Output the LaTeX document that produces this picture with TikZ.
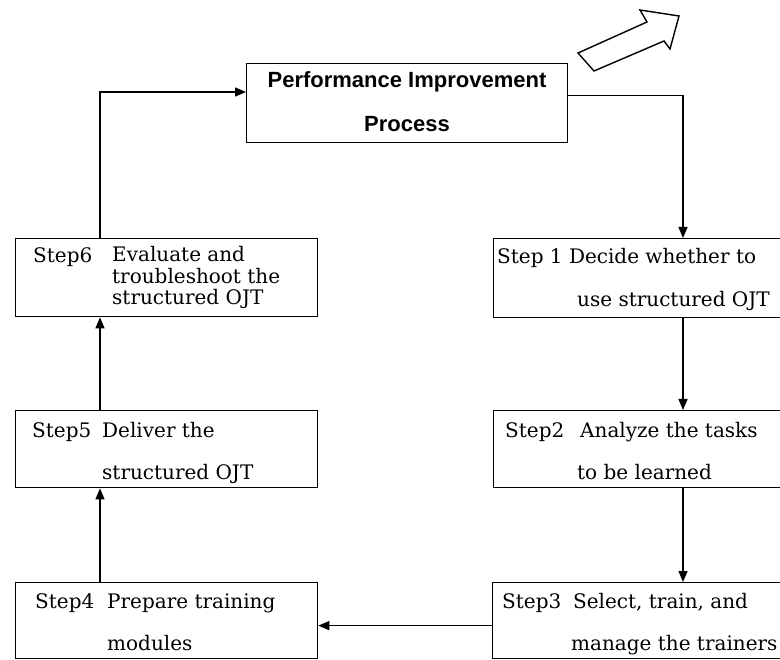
\documentclass[tikz,border=0pt]{standalone}
\usepackage{fontspec}
\setmainfont{DejaVu Serif}
\newfontfamily\boxsans{Liberation Sans}
\usetikzlibrary{arrows.meta}
\tikzset{
  stepbox/.style={draw, line width=1.3pt, anchor=north west, inner sep=0pt},
  txt/.style={anchor=base west, inner sep=0pt, font=\fontsize{20}{22}\selectfont},
  ttl/.style={anchor=base, inner sep=0pt, font=\boxsans\bfseries\fontsize{22}{24}\selectfont},
  conn/.style={line width=1.3pt},
  arr/.style={conn, -{Triangle[length=11pt,width=9pt]}}
}
\begin{document}
\begin{tikzpicture}[x=1pt,y=-1pt]
\useasboundingbox (0,0) rectangle (780,660);
% boxes
\node[stepbox, minimum width=321pt, minimum height=79pt] (top) at (246,63) {};
\node[stepbox, minimum width=320pt, minimum height=79pt] (s1) at (493,238) {};
\node[stepbox, minimum width=320pt, minimum height=77pt] (s2) at (493,410) {};
\node[stepbox, minimum width=320pt, minimum height=76pt] (s3) at (492,582) {};
\node[stepbox, minimum width=302pt, minimum height=76pt] (s4) at (15,582) {};
\node[stepbox, minimum width=302pt, minimum height=77pt] (s5) at (15,410) {};
\node[stepbox, minimum width=302pt, minimum height=78pt] (s6) at (15,238) {};
% texts
\node[ttl] (t1) at (407,88) {Performance Improvement};
\node[ttl] (t2) at (407,132) {Process};
\node[txt] (a1) at (497,264) {Step 1 Decide whether to};
\node[txt] (a2) at (577,307) {use structured OJT};
\node[txt] (b1) at (505,438) {Step2};
\node[txt] (b2) at (580,438) {Analyze the tasks};
\node[txt] (b3) at (577,480) {to be learned};
\node[txt] (c1) at (502,608) {Step3};
\node[txt] (c2) at (573,608) {Select, train, and};
\node[txt] (c3) at (571,650) {manage the trainers};
\node[txt] (d1) at (35,608) {Step4};
\node[txt] (d2) at (107,608) {Prepare training};
\node[txt] (d3) at (107,650) {modules};
\node[txt] (e1) at (32,438) {Step5};
\node[txt] (e2) at (102,438) {Deliver the};
\node[txt] (e3) at (102,480) {structured OJT};
\node[txt] (f1) at (33,263) {Step6};
\node[txt, font=\fontsize{20}{21.7}\selectfont, align=left, anchor=north west] (f2) at (112,246) {Evaluate and\\troubleshoot the\\structured OJT};
% connector guide coordinates
\coordinate (rx) at (683,95);
\coordinate (lx) at (100,92);
% connectors
\draw[arr] ([yshift=7.5pt]top.east) -| (s1.north -| rx);
\draw[arr] (s1.south -| rx) -- (s2.north -| rx);
\draw[arr] (s2.south -| rx) -- (s3.north -| rx);
\draw[arr] ([yshift=-5pt]s3.west) -- ([yshift=-5pt]s4.east);
\draw[arr] (s4.north -| lx) -- (s5.south -| lx);
\draw[arr] (s5.north -| lx) -- (s6.south -| lx);
\draw[arr] (s6.north -| lx) |- (top.west |- lx);
% hollow arrow at top right
\draw[line width=1.4pt, line join=miter, fill=white]
  (578,53) -- (647,22) -- (640,10) -- (679,16) -- (670,49) -- (664,41) -- (594,71) -- cycle;
\end{tikzpicture}
\end{document}
